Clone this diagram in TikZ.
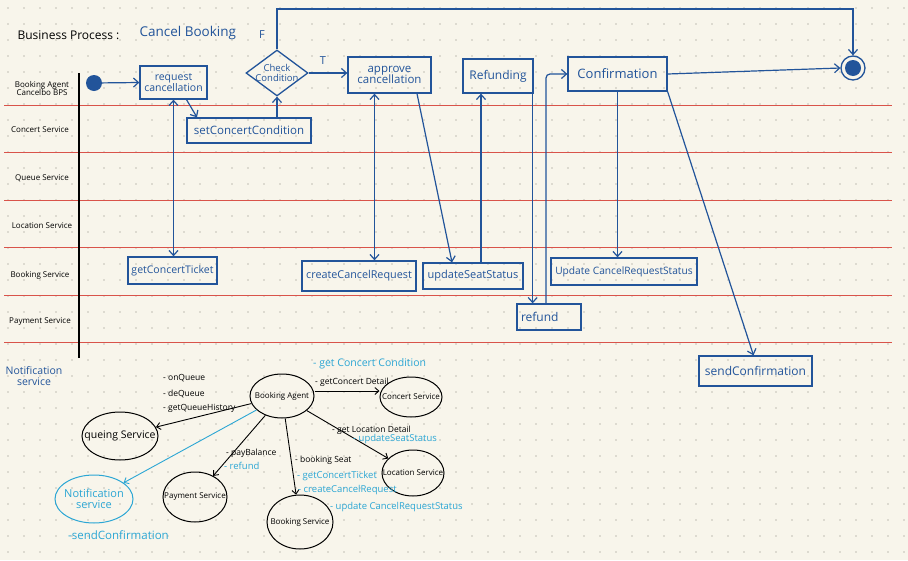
\documentclass[tikz,border=0pt]{standalone}
\usepackage{fontspec}
\setmainfont{Open Sans}
\usetikzlibrary{arrows.meta,shapes.geometric}
\definecolor{bpblue}{HTML}{22549A}
\definecolor{bpred}{HTML}{D9534A}
\definecolor{bpcyan}{HTML}{2BA6D4}
\definecolor{paper}{HTML}{F8F5EB}
\definecolor{dotgray}{HTML}{C2BFB5}
\newcommand{\fs}[1]{\fontsize{#1}{#1}\selectfont}
\tikzset{
  task/.style={rectangle,draw=bpblue,line width=1.3pt,text=bpblue,inner sep=1pt,align=center},
  flow/.style={-{Straight Barb[length=5pt,width=9pt]},draw=bpblue,line width=1.2pt},
  twoway/.style={{Straight Barb[length=5pt,width=9pt]}-{Straight Barb[length=5pt,width=9pt]},draw=bpblue,line width=1.2pt},
  laneline/.style={draw=bpred,line width=1pt},
  lanelabel/.style={font=\fs{8},align=center},
  svc/.style={ellipse,draw,line width=1pt,inner sep=0pt},
  svctext/.style={font=\fs{8},align=center},
  call/.style={-{Straight Barb[length=4pt,width=7pt]},line width=0.9pt},
  note/.style={anchor=west,inner sep=0pt,font=\fs{8.5}},
  cnote/.style={note,text=bpcyan,font=\fs{9.5}}
}
\begin{document}
\begin{tikzpicture}[x=1pt,y=-1pt]
    % paper and dots
    \fill[paper] (0,0) rectangle (908,560);
    \useasboundingbox (0,0) rectangle (908,560);
    \foreach \x in {8,24,...,904}
      \foreach \y in {8,24,...,552}
        \fill[dotgray] (\x,\y) circle (0.8pt);

    % lanes
    \foreach \y in {105,152,200,247,295,342}
      \draw[laneline] (4,\y) -- (892,\y);
    \draw[line width=1.1pt] (79,73) -- (79,358);
    \node[lanelabel] (lagent) at (42,88) {Booking Agent\\Cancelbo BPS};
    \node[lanelabel] (lconcert) at (40,130) {Concert Service};
    \node[lanelabel] (lqueue) at (42,178) {Queue Service};
    \node[lanelabel] (llocation) at (42,226) {Location Service};
    \node[lanelabel] (lbooking) at (40,275) {Booking Service};
    \node[lanelabel] (lpayment) at (40,322) {Payment Service};
    \node[text=bpblue,align=center,font=\fs{10.5}] (lnotif) at (34,376) {Notification\\service};

    % title
    \node[anchor=west,font=\fs{12}] (title) at (14,35) {Business Process :};
    \node[anchor=west,text=bpblue,font=\fs{13.5}] (bpname) at (136,33) {Cancel Booking};

    % nodes
    \node[circle,fill=bpblue,minimum size=16pt,inner sep=0pt] (init) at (94,83) {};
    \node[task,minimum width=67pt,minimum height=33pt,font=\fs{10.5}] (req) at (173.5,82.5) {request\\cancellation};
    \node[diamond,draw=bpblue,line width=1.3pt,inner sep=0pt,minimum width=62pt,minimum height=46pt,
      label={[text=bpblue,align=center,font=\fs{9.5}]center:{Check\\Condition}}] (chk) at (277,73) {};
    \node[task,minimum width=83pt,minimum height=36pt,font=\fs{11.5}] (apr) at (389.5,75) {approve\\cancellation};
    \node[task,minimum width=70pt,minimum height=34pt,font=\fs{12}] (refg) at (498,76) {Refunding};
    \node[task,minimum width=99pt,minimum height=34pt,font=\fs{13}] (conf) at (617.5,74) {Confirmation};
    \node[circle,draw=bpblue,line width=1.3pt,minimum size=24pt,inner sep=0pt] (final) at (853,68) {};
    \node[circle,fill=bpblue,minimum size=16pt,inner sep=0pt] (finaldot) at (final) {};
    \node[text=bpblue,font=\fs{11}] (flab) at (262,35) {F};
    \node[text=bpblue,font=\fs{11}] (tlab) at (323,61) {T};

    \node[task,minimum width=124pt,minimum height=25pt,font=\fs{11.5}] (scc) at (249,130.5) {setConcertCondition};
    \node[task,minimum width=89pt,minimum height=27pt,font=\fs{10.5}] (gct) at (172.5,270.5) {getConcertTicket};
    \node[task,minimum width=114pt,minimum height=30pt,font=\fs{10.8}] (ccr) at (359,276) {createCancelRequest};
    \node[task,minimum width=100pt,minimum height=26pt,font=\fs{11}] (uss) at (473,276) {updateSeatStatus};
    \node[task,minimum width=64pt,minimum height=26pt,font=\fs{12},align=left,text width=56pt] (rfd) at (549,317) {refund};
    \node[task,minimum width=146pt,minimum height=27pt,font=\fs{10.2}] (ucr) at (624,271.5) {Update CancelRequestStatus};
    \node[task,minimum width=113pt,minimum height=30pt,font=\fs{12}] (snd) at (755.5,371) {sendConfirmation};
    \coordinate (ftop) at (853,9);

    % paths
    \draw[flow] (init) -- (req.west); % start -> request
    \draw[flow] ([xshift=13pt]req.south) -- ([xshift=-52pt]scc.north); % request -> set condition
    \draw[flow] (scc.north -| chk.south) -- (chk.south); % set condition -> check
    \draw[flow] (chk.east) -- (chk.east -| apr.west); % T
    \draw[flow] (chk.north) |- (ftop) -- (final.north); % F
    \draw[twoway] (req.south) -- (req.south |- gct.north); % request <-> ticket
    \draw[twoway] ([xshift=-15pt]apr.south) -- ([xshift=-15pt]apr.south |- ccr.north); % approve <-> cancel request
    \draw[flow] ([xshift=27.5pt]apr.south) -- ([xshift=-21pt]uss.north); % approve -> seat status
    \draw[flow] ([xshift=8pt]uss.north) -- ([xshift=8pt]uss.north |- refg.south); % seat status -> refunding
    \draw[flow] ([xshift=-1pt]refg.south east) -- ([xshift=-1pt]refg.south east |- rfd.north); % refunding -> refund
    \draw[flow,rounded corners=4pt] ([xshift=-3pt]rfd.north) |- (conf.west); % refund -> confirmation
    \draw[flow] (conf.south) -- (conf.south |- ucr.north); % confirmation -> request status
    \draw[flow] (conf.south east) -- ([xshift=-2pt]snd.north); % confirmation -> send
    \draw[flow] (conf.east) -- (final.west); % confirmation -> end

    % service map
    \node[svc,minimum width=64pt,minimum height=44pt,label={[svctext]center:Booking Agent}] (ba) at (282,396) {};
    \node[svc,minimum width=62pt,minimum height=40pt,label={[svctext]center:Concert Service}] (cs) at (411,397) {};
    \node[svc,minimum width=62pt,minimum height=46pt,label={[svctext]center:Location Service}] (ls) at (413,473) {};
    \node[svc,minimum width=66pt,minimum height=54pt,label={[svctext]center:Booking Service}] (bs) at (300,522) {};
    \node[svc,minimum width=64pt,minimum height=50pt,label={[svctext]center:Payment Service}] (ps) at (195,497) {};
    \node[svc,minimum width=76pt,minimum height=48pt,label={[svctext,font=\fs{10.5}]center:queing Service}] (qs) at (120,436) {};
    \node[svc,draw=bpcyan,minimum width=78pt,minimum height=48pt,
      label={[svctext,text=bpcyan,font=\fs{11}]center:{Notification\\service}}] (ns) at (94,499) {};

    \draw[call] ([yshift=5pt]ba.east) -- ([yshift=5pt]ba.east -| cs.west); % -> concert
    \draw[call] (ba) -- (ls); % -> location
    \draw[call] (ba) -- (bs); % -> booking
    \draw[call] (ba) -- (ps); % -> payment
    \draw[call] (ba) -- (qs); % -> queue
    \draw[call,draw=bpcyan] (ba) -- (ns); % -> notification

    \node[cnote,font=\fs{10.5}] (n1) at (313,364) {- get Concert Condition};
    \node[note] (n2) at (315,382) {- getConcert Detail};
    \node[note] (n3) at (163,378) {- onQueue};
    \node[note] (n4) at (163,394) {- deQueue};
    \node[note] (n5) at (163,408) {- getQueueHistory};
    \node[note] (n6) at (226,453) {- payBalance};
    \node[cnote] (n7) at (224,466) {- refund};
    \node[note] (n8) at (295,460) {- booking Seat};
    \node[cnote] (n9) at (297,476) {- getConcertTicket};
    \node[cnote] (n10) at (298,490) {- createCancelRequest};
    \node[cnote] (n11) at (330,507) {- update CancelRequestStatus};
    \node[note] (n12) at (332,430) {- get Location Detail};
    \node[cnote] (n13) at (353,439) {- updateSeatStatus};
    \node[cnote,font=\fs{11.5}] (n14) at (68,535) {-sendConfirmation};
\end{tikzpicture}
\end{document}
